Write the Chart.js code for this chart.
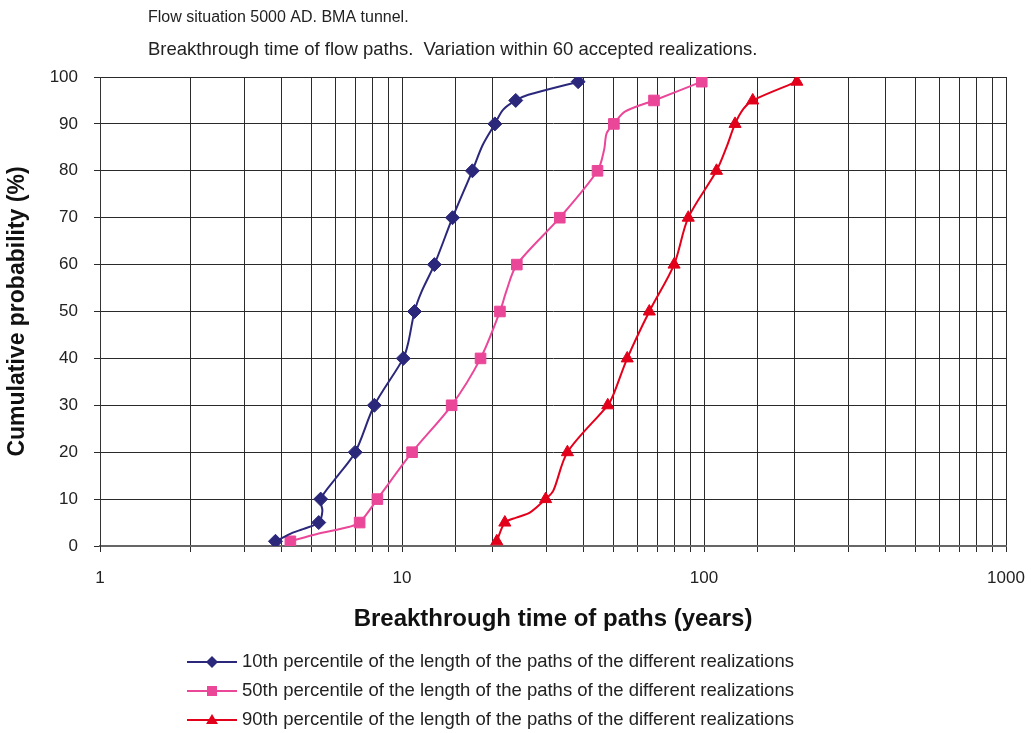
<!DOCTYPE html>
<html>
<head>
<meta charset="utf-8">
<script src="https://cdn.jsdelivr.net/npm/chart.js@4.4.1/dist/chart.umd.min.js"></script>
<style>
    html, body { margin: 0; padding: 0; background: #fff; }
</style>
</head>
<body>
<canvas id="GraficoBreakthrough" width="1031" height="733"></canvas>
<script>
// textos do grafico
var cabecalho = ["Flow situation 5000 AD. BMA tunnel.",
                 "Breakthrough time of flow paths.  Variation within 60 accepted realizations."];
var tituloX = "Breakthrough time of paths (years)";
var tituloY = "Cumulative probability (%)";
var rotulosX = [1, 10, 100, 1000];
var nomesSeries = ["10th percentile of the length of the paths of the different realizations",
                   "50th percentile of the length of the paths of the different realizations",
                   "90th percentile of the length of the paths of the different realizations"];

// percentis que levam marcador
var marcas = [1, 5, 10, 20, 30, 40, 50, 60, 70, 80, 90, 95, 99];

// 10th percentile
var tempo10 = [3.81, 4.35, 4.7, 5.3, 5.45, 5.38, 6.06, 7.0, 8.1, 10.1, 10.5, 11.0, 11.6, 12.8, 14.7, 17.1, 18.5, 20.3, 21.6, 23.8, 26.2, 38.3];
var prob10 = [1, 2.85, 3.6, 5, 7.5, 10, 14.6, 20, 30, 40, 43.5, 50, 54.2, 60, 70, 80, 85.5, 90, 93, 95, 96.2, 99];

// 50th percentile
var tempo50 = [4.27, 5.2, 6.71, 7.24, 8.29, 10.8, 14.6, 18.2, 21.1, 22.2, 24.0, 33.3, 44.4, 46.7, 47.6, 50.3, 54.7, 68.3, 98.3];
var prob50 = [1, 2.5, 4.1, 5, 10, 20, 30, 40, 50, 54.5, 60, 70, 80, 84.5, 88, 90, 92.6, 95, 99];

// 90th percentile
var tempo90 = [20.6, 21.9, 23.9, 26.5, 29.9, 31.7, 35.3, 48.0, 50.0, 55.7, 65.9, 79.6, 88.7, 110, 119, 126.7, 135, 145, 203];
var prob90 = [1, 5, 6.05, 7.1, 10, 11.8, 20, 30, 32.1, 40, 50, 60, 70, 80, 85.2, 90, 93.2, 95, 99];

var fonte = '"Liberation Sans", Arial, sans-serif';

function MontarPontos(tempos, probs) {
    var pontos = [];
    for (var i = 0; i < tempos.length; i++) {
        pontos.push({ x: tempos[i], y: probs[i] });
    }
    return pontos;
}

function RaioMarcas(probs, raio) {
    return probs.map(function (p) { return marcas.indexOf(p) >= 0 ? raio : 0; });
}

function Serie(nome, tempos, probs, cor, estilo, raio) {
    return {
        label: nome,
        data: MontarPontos(tempos, probs),
        borderColor: cor,
        backgroundColor: cor,
        borderWidth: 2,
        pointStyle: estilo,
        pointRadius: RaioMarcas(probs, raio),
        pointHoverRadius: RaioMarcas(probs, raio),
        pointBorderWidth: 1,
        tension: 0.3,
        fill: false
    };
}

function DesenharMarca(ctx, estilo, x, y, cor) {
    ctx.fillStyle = cor;
    ctx.beginPath();
    if (estilo === 'rectRot') {
        ctx.moveTo(x - 6, y); ctx.lineTo(x, y - 6); ctx.lineTo(x + 6, y); ctx.lineTo(x, y + 6);
    } else if (estilo === 'rect') {
        ctx.rect(x - 5, y - 5, 10, 10);
    } else {
        ctx.moveTo(x, y - 6); ctx.lineTo(x + 6, y + 4); ctx.lineTo(x - 6, y + 4);
    }
    ctx.closePath();
    ctx.fill();
}

// cabecalho e legenda desenhados na mao
var textosExtras = {
    id: 'textosExtras',
    afterDraw: function (chart) {
        var ctx = chart.ctx;
        ctx.save();
        ctx.fillStyle = '#222';
        ctx.textBaseline = 'middle';
        ctx.textAlign = 'left';
        ctx.font = '16px ' + fonte;
        ctx.fillText(cabecalho[0], 148, 18);
        ctx.font = '18.5px ' + fonte;
        ctx.fillText(cabecalho[1], 148, 50);

        ctx.font = '18.5px ' + fonte;
        var sets = chart.data.datasets;
        for (var i = 0; i < sets.length; i++) {
            var y = 662 + 29 * i;
            ctx.strokeStyle = sets[i].borderColor;
            ctx.lineWidth = 2;
            ctx.beginPath();
            ctx.moveTo(187, y);
            ctx.lineTo(237, y);
            ctx.stroke();
            DesenharMarca(ctx, sets[i].pointStyle, 212, y, sets[i].borderColor);
            ctx.fillStyle = '#222';
            ctx.fillText(sets[i].label, 242, y);
        }
        ctx.restore();
    }
};

var ctx = document.getElementById("GraficoBreakthrough").getContext('2d');
var grafico = new Chart(ctx, {
    type: 'line',
    data: {
        datasets: [
            Serie(nomesSeries[0], tempo10, prob10, '#2b287c', 'rectRot', 7),
            Serie(nomesSeries[1], tempo50, prob50, '#ea4799', 'rect', 7.5),
            Serie(nomesSeries[2], tempo90, prob90, '#e3001b', 'triangle', 7)
        ]
    },
    plugins: [textosExtras],
    options: {
        responsive: false,
        animation: false,
        devicePixelRatio: 1,
        events: [],
        layout: { padding: { top: 77, right: 25, bottom: 95, left: 0 } },
        plugins: {
            legend: { display: false },
            tooltip: { enabled: false }
        },
        scales: {
            x: {
                type: 'logarithmic',
                min: 1,
                max: 1000,
                afterFit: function (scale) {
                    scale.height = 92;
                    scale.paddingRight = 0;
                    scale.paddingLeft = 0;
                },
                grid: { color: '#2a2a2a', lineWidth: 1, tickLength: 6 },
                border: { color: '#666', width: 2 },
                ticks: {
                    autoSkip: false,
                    maxRotation: 0,
                    color: '#222',
                    font: { family: fonte, size: 17 },
                    padding: 16,
                    callback: function (valor) {
                        return rotulosX.indexOf(valor) >= 0 ? String(valor) : '';
                    }
                },
                title: {
                    display: true,
                    text: tituloX,
                    color: '#111',
                    font: { family: fonte, size: 24, weight: 'bold' },
                    padding: { top: 12 }
                }
            },
            y: {
                min: 0,
                max: 100,
                afterFit: function (scale) { scale.width = 100; },
                grid: { color: '#2a2a2a', lineWidth: 1, tickLength: 6 },
                border: { color: '#333', width: 1 },
                ticks: {
                    stepSize: 10,
                    color: '#222',
                    font: { family: fonte, size: 17 },
                    padding: 16
                },
                title: {
                    display: true,
                    text: tituloY,
                    color: '#111',
                    font: { family: fonte, size: 23, weight: 'bold' },
                    padding: { top: 4, bottom: 0 }
                }
            }
        }
    }
});
</script>
</body>
</html>
